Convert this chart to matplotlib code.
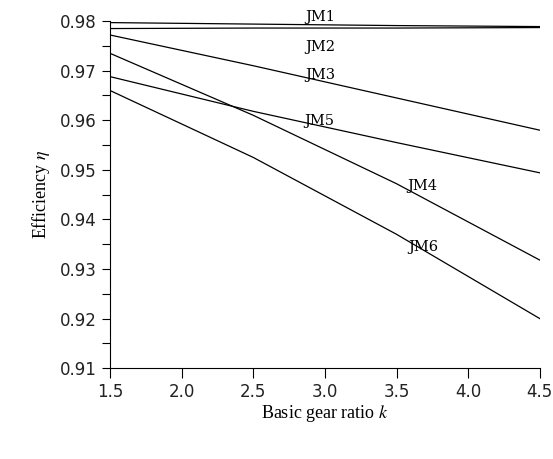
import matplotlib
matplotlib.use("Agg")
import matplotlib.pyplot as plt
from matplotlib.ticker import MultipleLocator

plt.rcParams["mathtext.fontset"] = "stix"

# basic gear ratio k and efficiency of each scheme
k = [1.5, 2.5, 3.5, 4.5]
jm1 = [0.9797, 0.9794, 0.9791, 0.9789]
jm2 = [0.9785, 0.9786, 0.9786, 0.9787]
jm3 = [0.9772, 0.9710, 0.9645, 0.9580]
jm4 = [0.9735, 0.9610, 0.9472, 0.9318]
jm5 = [0.9688, 0.9618, 0.9555, 0.9494]
jm6 = [0.9660, 0.9525, 0.9370, 0.9200]

names = ["JM1", "JM2", "JM3", "JM5", "JM4", "JM6"]
label_x = [2.97, 2.97, 2.97, 2.96, 3.68, 3.69]
label_y = [0.9808, 0.9747, 0.9691, 0.9598, 0.9468, 0.9344]

fig = plt.figure(figsize=(5.53, 4.59), dpi=100)
ax = fig.add_axes([0.199, 0.198, 0.777, 0.756])

for s in [jm1, jm2, jm3, jm4, jm5, jm6]:
    ax.plot(k, s, color="black", lw=0.9)

for n, x, y in zip(names, label_x, label_y):
    ax.text(x, y, n, ha="center", va="center", fontsize=10.5,
            family="DejaVu Serif", clip_on=False)

ax.set_xlim(1.5, 4.5)
ax.set_ylim(0.91, 0.98)
ax.xaxis.set_major_locator(MultipleLocator(0.5))
ax.yaxis.set_major_locator(MultipleLocator(0.01))
ax.yaxis.set_minor_locator(MultipleLocator(0.005))
ax.set_xticklabels(["%.1f" % v for v in ax.get_xticks()])
ax.set_yticklabels(["%.2f" % v for v in ax.get_yticks()])

ax.spines["top"].set_visible(False)
ax.spines["right"].set_visible(False)
ax.tick_params(which="both", direction="out", length=6, width=0.8,
               labelsize=12, colors="black")
ax.tick_params(axis="x", length=7)
for t in ax.get_xticklabels() + ax.get_yticklabels():
    t.set_family("DejaVu Sans")
    t.set_color("#222222")

ax.set_xlabel("Basic gear ratio $k$", family="Liberation Serif", fontsize=13, labelpad=2)
ax.set_ylabel(r"Efficiency $\eta$", family="Liberation Serif", fontsize=13, labelpad=6)

fig.savefig("out.png", dpi=100)
